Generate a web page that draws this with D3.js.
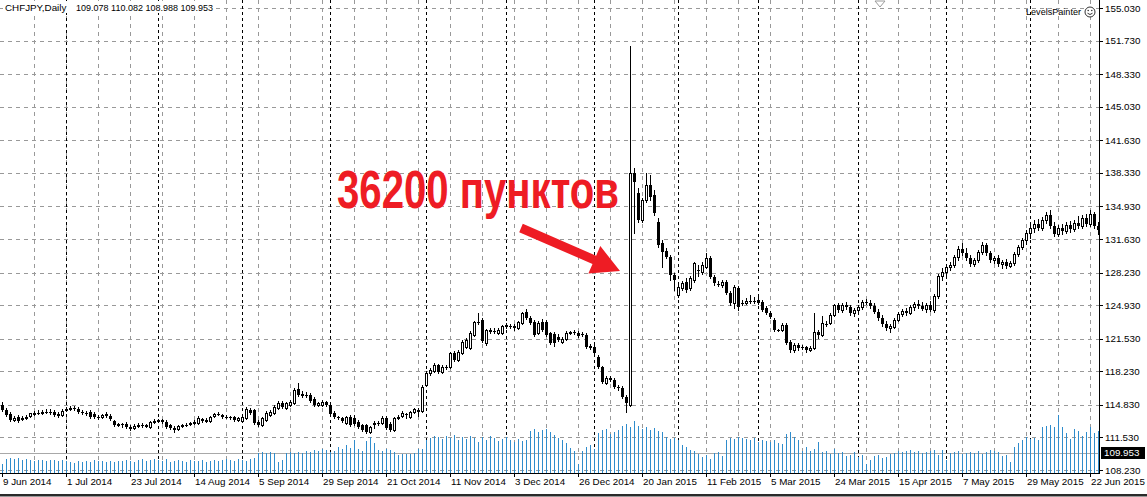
<!DOCTYPE html>
<html><head><meta charset="utf-8">
<script src="https://cdn.jsdelivr.net/npm/d3@7"></script>
<style>html,body{margin:0;padding:0;background:#fff;overflow:hidden}</style>
</head><body>
<svg id="c" width="1147" height="497"></svg>
<script>
const symbolTitle = "CHFJPY,Daily";
const headerValues = "109.078 110.082 108.988 109.953";
const indicatorName = "LevelsPainter";

const open = [
114.81,114.31,113.90,113.29,113.60,113.39,113.50,113.70,113.90,114.00,
114.00,114.10,114.10,114.10,113.80,113.80,114.31,114.41,114.51,114.41,
114.10,114.00,114.10,113.90,113.60,113.60,113.90,113.70,113.19,112.79,
112.89,112.89,112.58,112.48,112.69,112.79,112.69,112.58,113.09,113.19,
113.29,113.09,112.79,112.48,112.38,112.69,112.79,112.89,112.99,112.99,
113.39,113.19,113.19,113.70,113.90,113.80,113.60,113.60,113.60,113.29,
113.19,113.50,114.31,114.31,113.09,112.79,113.29,113.80,114.00,114.51,
115.02,114.51,114.81,115.02,116.43,115.93,115.83,115.83,115.42,114.81,
114.81,115.12,114.81,114.00,113.60,113.50,112.99,113.60,113.50,113.09,
112.79,112.79,112.08,112.89,112.99,112.99,113.50,112.89,112.28,113.50,
113.70,113.90,113.60,114.10,114.31,114.21,116.84,118.06,118.26,118.87,
118.16,118.66,118.66,120.08,119.37,120.08,120.69,120.59,121.90,123.22,
123.42,121.09,122.41,122.31,122.11,122.11,122.92,122.81,122.81,122.61,
123.12,124.23,123.63,123.22,122.11,123.22,123.22,122.11,122.01,121.70,
121.20,121.50,122.11,122.21,122.11,122.01,121.90,120.79,120.69,119.68,
118.66,117.04,117.55,117.35,116.64,116.54,115.62,114.81,138.31,136.29,
133.55,135.58,137.10,136.09,133.35,131.22,130.41,129.81,127.98,125.96,
126.67,127.27,126.67,127.48,128.49,128.29,128.79,129.70,127.78,127.07,
126.97,127.27,126.16,125.15,126.67,125.15,125.15,125.35,125.35,125.45,
125.25,124.64,124.13,123.42,122.41,122.41,122.92,121.20,120.39,120.89,
120.69,120.69,120.39,120.59,122.21,121.90,123.02,123.12,123.93,124.94,
124.44,124.94,124.74,124.13,124.44,124.74,125.25,125.15,124.84,124.23,
123.63,123.02,122.61,122.71,123.42,124.03,124.34,124.13,124.74,125.04,
124.84,124.54,124.94,124.44,125.86,127.88,128.29,128.79,129.00,129.81,
130.62,130.21,129.70,129.10,129.50,130.31,131.02,130.21,129.50,129.70,
129.10,129.30,128.89,129.20,130.11,130.82,131.53,132.24,132.74,133.15,
132.74,133.55,134.06,132.95,132.14,132.74,132.44,133.05,132.64,133.25,
132.95,133.76,133.15,134.16,132.95];

const high = [
115.12,114.51,114.10,113.70,113.80,113.70,113.80,113.90,114.21,114.31,
114.31,114.41,114.41,114.31,114.10,114.41,114.61,114.71,114.71,114.61,
114.31,114.21,114.31,114.10,113.80,113.90,114.10,113.90,113.29,112.99,
112.99,113.09,112.79,112.89,112.99,112.99,112.89,113.19,113.39,113.39,
113.39,113.29,112.89,112.69,112.79,112.89,112.99,113.09,113.29,113.70,
113.50,113.50,113.70,114.00,114.10,113.90,113.80,113.70,113.70,113.60,
113.70,114.61,114.51,114.41,113.29,113.60,114.21,114.31,114.81,115.22,
115.22,115.12,115.32,116.54,117.04,116.23,116.13,116.03,115.62,115.12,
115.32,115.22,115.02,114.21,113.70,113.60,113.70,113.80,113.80,113.29,
112.89,112.89,112.69,113.19,113.19,113.70,113.70,113.09,113.60,113.80,
114.21,114.00,114.21,114.51,114.51,116.84,118.26,118.56,119.07,118.97,
118.87,118.87,120.18,120.28,120.39,121.40,121.60,122.31,123.32,124.13,
123.63,122.51,122.61,122.61,122.61,122.92,123.12,123.02,123.02,123.32,
124.23,124.54,123.83,123.42,123.32,123.52,123.42,122.21,122.21,122.01,
121.70,122.31,122.31,122.41,122.31,122.21,122.11,120.99,120.89,119.88,
118.76,117.75,117.75,117.55,116.84,116.74,115.83,151.18,138.82,136.80,
135.78,138.31,138.11,136.59,133.76,131.53,130.72,130.01,128.19,126.97,
127.38,127.68,127.88,129.30,129.00,129.30,130.21,129.91,127.98,127.38,
127.48,127.48,126.36,126.97,126.87,125.45,125.65,125.96,125.75,125.75,
125.45,124.84,124.34,123.63,122.51,123.12,123.12,121.40,121.09,121.09,
120.89,120.79,120.79,124.13,122.41,123.83,123.32,124.13,125.04,125.15,
125.15,125.25,124.94,124.64,124.94,125.45,125.55,125.45,125.15,124.54,
123.93,123.32,123.02,123.63,124.23,124.54,124.64,124.94,125.25,125.45,
125.25,125.15,125.35,126.06,128.08,128.69,129.10,129.30,130.01,130.92,
131.22,130.72,130.01,129.70,130.52,131.33,131.22,130.41,129.91,130.01,
129.50,129.60,129.40,130.31,131.02,131.73,132.54,133.05,133.55,133.66,
133.86,134.36,134.57,133.35,133.05,133.15,133.35,133.45,133.55,133.96,
134.06,134.16,134.57,134.36,133.35];

const low = [
114.21,113.70,113.19,113.19,113.09,113.29,113.39,113.60,113.80,113.90,
113.90,114.00,113.90,113.70,113.60,113.70,114.21,114.31,114.31,114.00,
113.90,113.80,113.50,113.50,113.39,113.50,113.60,113.29,112.69,112.69,
112.58,112.48,112.28,112.38,112.58,112.58,112.58,112.48,112.99,113.09,
112.99,112.48,112.38,112.08,112.28,112.58,112.69,112.79,112.89,112.89,
113.09,113.09,113.09,113.60,113.80,113.50,113.50,113.39,113.19,113.19,
113.09,113.39,113.90,112.89,112.69,112.69,113.19,113.70,113.90,114.41,
114.51,114.41,114.71,114.92,115.73,115.62,115.62,115.12,114.71,114.71,
114.71,114.71,113.80,113.50,113.39,113.09,112.89,112.69,112.79,112.48,
112.18,111.98,111.98,112.48,112.79,112.89,112.38,112.18,112.18,113.39,
113.60,113.50,113.50,114.00,113.70,114.10,116.74,117.85,118.16,118.06,
118.06,118.46,118.56,119.27,119.27,119.98,120.59,120.49,121.80,123.02,
121.20,120.89,122.11,122.11,122.01,122.01,122.61,122.61,122.41,122.51,
123.02,123.52,123.02,121.80,122.01,122.31,121.80,120.99,120.79,121.30,
121.09,121.40,122.01,122.01,121.70,121.80,120.59,120.49,119.98,118.56,
117.04,116.94,117.24,116.54,116.33,115.52,114.10,114.71,132.24,133.35,
133.35,135.38,135.58,134.06,130.82,128.79,129.70,127.48,126.46,125.75,
126.46,126.26,126.46,127.27,127.88,128.08,128.69,127.68,126.97,126.87,
126.77,126.06,124.94,124.64,124.44,124.94,125.04,125.15,125.15,125.04,
124.34,124.03,123.63,122.31,122.31,122.31,120.99,120.18,120.18,120.39,
120.49,120.18,120.28,120.49,121.60,121.80,122.81,123.02,123.83,124.23,
124.23,124.54,123.93,123.83,124.23,124.54,125.04,124.64,124.13,123.42,
122.81,122.41,122.21,122.61,123.32,123.83,123.93,124.03,124.44,124.64,
124.44,124.23,124.34,124.23,125.65,127.48,127.98,128.49,128.79,129.50,
130.01,129.50,128.89,128.89,129.30,130.11,130.01,129.30,129.20,128.89,
128.69,128.69,128.79,129.00,129.91,130.62,131.12,131.73,132.34,132.54,
132.54,133.25,132.74,131.93,131.93,132.14,132.24,132.34,132.44,132.74,
132.74,132.95,132.95,132.74,132.14];

const close = [
114.31,113.80,113.29,113.50,113.19,113.50,113.60,114.00,114.00,114.00,
114.10,114.10,114.10,113.80,113.90,114.21,114.41,114.51,114.41,114.10,
114.00,113.90,113.60,113.60,113.60,113.80,113.70,113.39,112.79,112.89,
112.79,112.58,112.38,112.69,112.79,112.69,112.79,113.09,113.19,113.29,
113.09,112.58,112.48,112.28,112.69,112.79,112.79,112.99,113.09,113.50,
113.19,113.29,113.60,113.90,113.90,113.60,113.60,113.50,113.29,113.50,
113.60,114.41,114.00,112.99,112.79,113.50,114.00,114.10,114.61,115.02,
114.61,115.02,115.12,116.33,115.83,115.73,115.83,115.22,114.81,115.02,
115.12,114.81,113.90,113.60,113.50,113.19,113.60,112.79,112.89,112.58,
112.28,112.08,112.58,112.99,112.99,113.50,112.48,112.28,113.50,113.60,
114.00,113.80,114.10,114.41,114.10,116.64,118.06,118.36,118.87,118.16,
118.66,118.56,120.08,119.37,120.18,121.20,121.40,122.11,123.22,123.22,
121.30,122.41,122.21,122.31,122.41,122.81,122.71,122.81,122.61,123.22,
124.13,123.63,123.12,121.90,123.12,122.41,121.90,121.09,121.09,121.40,
121.50,122.11,122.21,122.21,121.80,121.90,120.69,120.59,120.08,118.66,
117.14,117.55,117.35,116.64,116.54,115.62,115.02,138.31,137.40,133.55,
135.58,137.10,135.88,134.26,131.02,130.31,129.81,127.98,127.48,126.77,
127.17,126.46,127.68,129.20,128.49,129.00,129.70,127.78,127.17,127.07,
127.27,126.16,125.15,126.77,124.74,125.15,125.35,125.25,125.35,125.15,
124.44,124.13,123.73,122.41,122.41,122.92,121.09,120.39,120.89,120.59,
120.59,120.39,120.59,122.21,121.90,123.12,123.02,123.93,124.94,124.44,
124.94,124.74,124.13,124.44,124.74,125.25,125.15,124.84,124.23,123.63,
123.02,122.61,122.81,123.42,124.03,124.34,124.13,124.74,125.04,124.84,
124.54,124.94,124.44,125.86,127.88,128.29,128.79,129.00,129.81,130.62,
130.21,129.70,129.10,129.50,130.31,131.02,130.21,129.50,129.70,129.10,
129.30,128.89,129.20,130.11,130.82,131.53,132.24,132.74,133.15,132.74,
133.55,134.06,132.95,132.14,132.74,132.44,133.05,132.64,133.25,132.95,
133.76,133.15,134.16,132.95,132.54];

const volume = [
9,14,15,14,15,13,14,13,12,13,13,12,13,13,12,13,12,
11,10,12,11,12,11,13,12,12,11,12,11,12,12,
13,12,11,13,14,12,13,14,13,12,14,11,12,13,12,11,13,12,
12,13,11,12,13,12,13,14,13,12,
14,13,12,14,15,
20,21,20,21,20,
11,13,
20,21,20,21,20,22,
21,23,22,24,23,21,
22,26,24,28,25,33,24,22,32,36,30,
23,22,24,23,21,18,19,19,19,20,24,
24,33,35,37,36,34,
37,35,38,33,36,34,37,
35,31,36,33,37,35,32,34,36,
33,31,34,32,33,
42,44,41,43,44,41,
38,35,33,30,25,22,
9,22,26,28,24,
40,43,44,39,41,43,
47,49,46,52,
47,44,46,43,45,42,41,
36,34,35,33,
28,26,23,22,19,
16,18,14,20,21,17,
33,35,34,36,35,34,33,35,
31,33,32,31,33,30,29,39,41,36,33,
22,26,22,24,31,21,
22,19,24,20,21,17,18,21,
16,18,9,13,17,18,15,16,
19,20,22,21,22,23,21,22,20,21,22,23,18,23,
13,
20,21,22,19,20,21,20,22,19,21,23,22,21,17,18,
11,26,30,33,36,34,35,33,
46,47,48,46,58,46,40,34,
44,42,37,41,46,40,42];

const priceTicks = [155.030,151.730,148.330,145.030,141.630,138.330,134.930,131.630,128.230,124.930,121.530,118.230,114.830,111.530,108.230];
const timeLabels = ["9 Jun 2014","1 Jul 2014","23 Jul 2014","14 Aug 2014","5 Sep 2014","29 Sep 2014","21 Oct 2014","11 Nov 2014","3 Dec 2014","26 Dec 2014","20 Jan 2015","11 Feb 2015","5 Mar 2015","24 Mar 2015","15 Apr 2015","7 May 2015","29 May 2015","22 Jun 2015"];
const timeLabelBars = [0,16,32,48,64,80,96,112,128,144,160,176,192,208,224,240,256,272];
const monthStartBars = [16,39,60,82,106,126,148,169,189,214,236,257];
const bidPrice = 109.953;
const annotationText = "36200 пунктов";

const svg = d3.select("#c");
const n = close.length;
const plotR = 1099, plotB = 473;
const x = d3.scaleLinear().domain([0, n - 1]).range([2.5, 2.5 + 4 * (n - 1)]);
const y = d3.scaleLinear().domain([108.23, 155.03]).range([470, 8]);
const yv = d3.scaleLinear().domain([0, 58]).range([plotB, 415]);
const font = "'Liberation Sans', Arial, sans-serif";
const fs = "9.8px";

svg.append("rect").attr("width", 1147).attr("height", 497).attr("fill", "#fff");

// grid
const g = svg.append("g").attr("shape-rendering", "crispEdges");
g.selectAll(".hg").data(priceTicks).enter().append("line")
  .attr("x1", 0).attr("x2", plotR)
  .attr("y1", d => Math.round(y(d)) + 0.5).attr("y2", d => Math.round(y(d)) + 0.5)
  .attr("stroke", "#999").attr("stroke-dasharray", "4,4");
g.selectAll(".vg").data(d3.range(8, n, 8)).enter().append("line")
  .attr("x1", d => x(d)).attr("x2", d => x(d))
  .attr("y1", 0).attr("y2", plotB)
  .attr("stroke", "#999").attr("stroke-dasharray", "4,4");
g.selectAll(".sep").data(monthStartBars).enter().append("line")
  .attr("x1", d => x(d)).attr("x2", d => x(d))
  .attr("y1", 0).attr("y2", plotB)
  .attr("stroke", "#000").attr("stroke-dasharray", "3,3");

// bid line
svg.append("line").attr("x1", 0).attr("x2", plotR)
  .attr("y1", Math.round(y(bidPrice)) + 0.5).attr("y2", Math.round(y(bidPrice)) + 0.5)
  .attr("stroke", "#a8a8a8");

// volumes
svg.append("g").selectAll("line").data(volume).enter().append("line")
  .attr("x1", (d, i) => x(i)).attr("x2", (d, i) => x(i))
  .attr("y1", plotB).attr("y2", d => yv(d))
  .attr("stroke", "#2f8ccc").attr("stroke-width", 1);

// candles
const cg = svg.append("g");
const idx = d3.range(n);
cg.selectAll(".wick").data(idx).enter().append("line")
  .attr("x1", i => x(i)).attr("x2", i => x(i))
  .attr("y1", i => Math.round(y(high[i]))).attr("y2", i => Math.round(y(low[i])) + 1)
  .attr("stroke", "#000");
cg.selectAll(".body").data(idx).enter().append("rect")
  .each(function (i) {
    const yo = Math.round(y(open[i])), yc = Math.round(y(close[i]));
    const top = Math.min(yo, yc), h = Math.abs(yo - yc);
    const s = d3.select(this);
    if (close[i] >= open[i]) {
      s.attr("x", x(i) - 1).attr("y", top + 0.5).attr("width", 2).attr("height", Math.max(h, 0.01))
       .attr("fill", "#fff").attr("stroke", "#000");
    } else {
      s.attr("x", x(i) - 1.5).attr("y", top).attr("width", 3).attr("height", Math.max(h, 1))
       .attr("fill", "#000");
    }
  });

// frame
svg.append("line").attr("x1", plotR + 0.5).attr("x2", plotR + 0.5).attr("y1", 0).attr("y2", plotB + 1).attr("stroke", "#000");
svg.append("line").attr("x1", 0).attr("x2", plotR + 1).attr("y1", plotB + 0.5).attr("y2", plotB + 0.5).attr("stroke", "#000");

// price axis
const pa = svg.append("g");
pa.selectAll("line").data(priceTicks).enter().append("line")
  .attr("x1", plotR).attr("x2", plotR + 4)
  .attr("y1", d => Math.round(y(d)) + 0.5).attr("y2", d => Math.round(y(d)) + 0.5)
  .attr("stroke", "#000");
pa.selectAll("text").data(priceTicks).enter().append("text")
  .attr("x", plotR + 6).attr("y", d => y(d) + 3.5)
  .attr("font-family", font).attr("font-size", fs).attr("fill", "#000")
  .text(d => d.toFixed(3));
// bid label
svg.append("rect").attr("x", plotR + 2).attr("y", y(bidPrice) - 6).attr("width", 44).attr("height", 12).attr("fill", "#000");
svg.append("text").attr("x", plotR + 5).attr("y", y(bidPrice) + 3.5)
  .attr("font-family", font).attr("font-size", fs).attr("fill", "#fff").text(bidPrice.toFixed(3));

// time axis
const ta = svg.append("g");
ta.selectAll("line").data(timeLabelBars).enter().append("line")
  .attr("x1", d => x(d)).attr("x2", d => x(d))
  .attr("y1", plotB).attr("y2", plotB + 4).attr("stroke", "#000");
ta.selectAll("text").data(timeLabels).enter().append("text")
  .attr("x", (d, i) => x(timeLabelBars[i]) + 0.5).attr("y", 485)
  .attr("font-family", font).attr("font-size", fs).attr("fill", "#000")
  .text(d => d);

// window bottom border
svg.append("rect").attr("x", 0).attr("y", 494).attr("width", 1147).attr("height", 2).attr("fill", "#2a2a2a");
svg.append("rect").attr("x", 0).attr("y", 496).attr("width", 1147).attr("height", 1).attr("fill", "#9a9a9a");

// header
svg.append("rect").attr("x", 3).attr("y", 1).attr("width", 212).attr("height", 12).attr("fill", "#fff");
svg.append("text").attr("x", 5).attr("y", 11).attr("font-family", font).attr("font-size", fs).text(symbolTitle);
svg.append("text").attr("x", 76).attr("y", 11).attr("font-family", font).attr("font-size", fs)
  .attr("textLength", 137).attr("lengthAdjust", "spacingAndGlyphs").text(headerValues);

// indicator label + smiley
svg.append("text").attr("x", 1026).attr("y", 15).attr("font-family", font).attr("font-size", fs)
  .attr("textLength", 55).attr("lengthAdjust", "spacingAndGlyphs").text(indicatorName);
const sm = svg.append("g").attr("transform", "translate(1090,12)");
sm.append("circle").attr("r", 5).attr("fill", "#fff").attr("stroke", "#333");
sm.append("circle").attr("cx", -1.8).attr("cy", -1.5).attr("r", 0.8).attr("fill", "#333");
sm.append("circle").attr("cx", 1.8).attr("cy", -1.5).attr("r", 0.8).attr("fill", "#333");
sm.append("path").attr("d", "M-2.5,1.2 Q0,3.8 2.5,1.2").attr("fill", "none").attr("stroke", "#333");

// chart shift marker
svg.append("path").attr("d", "M875,1 L885,1 L880,7 Z").attr("fill", "#fff").attr("stroke", "#9a9a9a");

// annotation
svg.append("text").attr("x", 337).attr("y", 208)
  .attr("font-family", "'Liberation Sans Narrow', 'Arial Narrow', 'Liberation Sans', Arial, sans-serif")
  .attr("font-weight", "bold").attr("font-size", "53px").attr("fill", "#ee1c24")
  .attr("textLength", 282).attr("lengthAdjust", "spacingAndGlyphs")
  .text(annotationText);

// arrow
(function () {
  const tx = 521, ty = 228, hx = 620, hy = 271;
  const dx = hx - tx, dy = hy - ty, L = Math.hypot(dx, dy);
  const ux = dx / L, uy = dy / L, px = -uy, py = ux;
  const hl = 28, hw = 15, sw = 4.5;
  const bx = hx - ux * hl, by = hy - uy * hl;
  const pts = [
    [tx + px * sw, ty + py * sw], [bx + px * sw, by + py * sw], [bx + px * hw, by + py * hw],
    [hx, hy], [bx - px * hw, by - py * hw], [bx - px * sw, by - py * sw], [tx - px * sw, ty - py * sw]
  ];
  svg.append("path").attr("d", "M" + pts.map(p => p.join(",")).join("L") + "Z").attr("fill", "#ee1c24");
})();
</script>
</body></html>
